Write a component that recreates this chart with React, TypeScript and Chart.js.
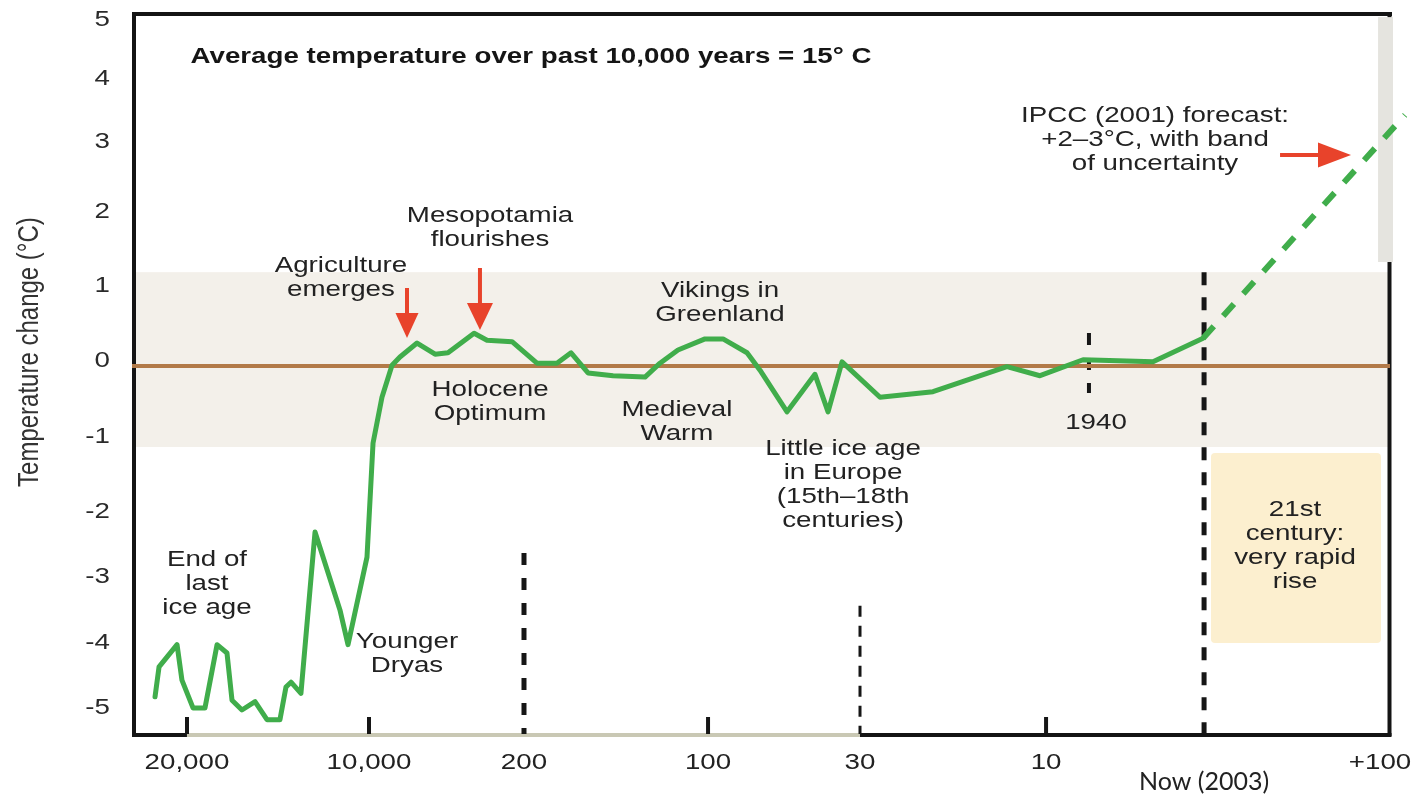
import { useEffect, useRef } from 'react';
import { Chart, registerables } from 'chart.js';

Chart.register(...registerables);

// ---------- data ----------
// x is a position along the (non-uniform) time axis, 0..100 across the plot
const xTickPositions = [4.37, 18.84, 31.16, 45.79, 57.87, 72.66, 85.22, 99.21];
const xTickLabels: (string | string[])[] = ['20,000', '10,000', '200', '100', '30', '10', ['', 'Now (2003)'], '+100'];

const yTickPositions = [4.98, 4.13, 3.22, 2.22, 1.15, 0.07, -1.02, -2.1, -3.04, -3.99, -4.92];
const yTickLabels = ['5', '4', '3', '2', '1', '0', '-1', '-2', '-3', '-4', '-5'];

const timeline = [
  1.83, 2.15, 3.58, 3.97, 4.85, 5.8, 6.76, 7.55, 7.95, 8.74, 9.78, 10.73, 11.76, 12.24, 12.64, 13.43,
  14.55, 16.53, 17.17, 18.68, 19.16, 19.87, 20.67, 21.3, 22.66, 24.09, 25.12, 27.19, 28.22, 30.21,
  32.19, 33.78, 34.9, 36.25, 38.24, 40.78, 41.97, 43.4, 45.55, 46.98, 48.89, 49.92, 52.07, 54.29,
  55.33, 56.44, 59.46, 63.67, 69.55, 72.18, 75.6, 81.16, 85.14,
];
const temperature = [
  -4.76, -4.33, -4.01, -4.52, -4.92, -4.92, -4.01, -4.13, -4.81, -4.95, -4.83, -5.09, -5.09, -4.62,
  -4.55, -4.71, -2.39, -3.51, -4.01, -2.75, -1.11, -0.45, 0.01, 0.13, 0.33, 0.17, 0.19, 0.47, 0.37,
  0.35, 0.04, 0.04, 0.19, -0.1, -0.14, -0.16, 0.04, 0.23, 0.39, 0.39, 0.19, -0.06, -0.66, -0.12,
  -0.66, 0.06, -0.45, -0.37, -0.01, -0.14, 0.09, 0.06, 0.4,
];
const forecastX = [85.14, 101.19];
const forecastY = [0.4, 3.61];
const baselineX = [0, 100];
const baselineY = [0, 0];

// ---------- decorations (in axis units) ----------
const band = { top: 1.35, bottom: -1.165 };
const uncertainty = { x1: 99.05, x2: 100.24, top: 5.02, bottom: 1.496 };
const centuryBox = { x1: 85.77, x2: 99.28, top: -1.252, bottom: -3.986 };
const guides = [
  { x: 31.16, from: -2.69, width: 5, dash: [12, 13] },
  { x: 57.87, from: -3.45, width: 3, dash: [11, 9] },
  { x: 85.22, from: 1.35, width: 5, dash: [13, 12] },
];
const marker1940 = { x: 76.07, from: 0.475, to: -0.388 };
const shortTickIdx = [0, 1, 3, 5];

type Note = { x: number; y: number; lines: string[]; bold?: boolean };
const notes: Note[] = [
  { x: 31.72, y: 4.446, lines: ['Average temperature over past 10,000 years = 15° C'], bold: true },
  { x: 81.32, y: 3.597, lines: ['IPCC (2001) forecast:', '+2–3°C, with band', 'of uncertainty'] },
  { x: 28.46, y: 2.158, lines: ['Mesopotamia', 'flourishes'] },
  { x: 16.61, y: 1.439, lines: ['Agriculture', 'emerges'] },
  { x: 28.46, y: -0.345, lines: ['Holocene', 'Optimum'] },
  { x: 46.74, y: 1.079, lines: ['Vikings in', 'Greenland'] },
  { x: 43.32, y: -0.633, lines: ['Medieval', 'Warm'] },
  { x: 56.52, y: -1.194, lines: ['Little ice age', 'in Europe', '(15th–18th', 'centuries)'] },
  { x: 76.63, y: -0.82, lines: ['1940'] },
  { x: 5.96, y: -2.791, lines: ['End of', 'last', 'ice age'] },
  { x: 21.86, y: -3.971, lines: ['Younger', 'Dryas'] },
  { x: 92.45, y: -2.072, lines: ['21st', 'century:', 'very rapid', 'rise'] },
];
const arrows = [
  { x1: 21.86, y1: 1.122, x2: 21.86, y2: 0.403, len: 25, w: 23 },
  { x1: 27.66, y1: 1.41, x2: 27.66, y2: 0.518, len: 27, w: 26 },
  { x1: 91.26, y1: 3.036, x2: 96.9, y2: 3.036, len: 33, w: 25 },
];

const SX = 1.26; // horizontal stretch of the original artwork's lettering
const FONT = '"Liberation Sans", Arial, Helvetica, sans-serif';
const GREEN = '#40ad4b';
const RED = '#e8432b';

const protoFill = CanvasRenderingContext2D.prototype.fillText;

const decor = {
  id: 'decor',
  beforeDraw(chart: any) {
    const ctx = chart.ctx;
    ctx.fillText = function (t: string, x: number, y: number, mw?: number) {
      if (/Lato/.test(this.font)) {
        return mw === undefined ? protoFill.call(this, t, x, y) : protoFill.call(this, t, x, y, mw);
      }
      this.save();
      this.translate(x, y);
      this.scale(SX, 1);
      if (mw === undefined) protoFill.call(this, t, 0, 0);
      else protoFill.call(this, t, 0, 0, mw / SX);
      this.restore();
    };
  },
  afterDraw(chart: any) {
    delete chart.ctx.fillText;
  },
  beforeDatasetsDraw(chart: any) {
    const { ctx, chartArea: a } = chart;
    const xs = chart.scales.x;
    const ys = chart.scales.y;
    const px = (v: number) => xs.getPixelForValue(v);
    const py = (v: number) => ys.getPixelForValue(v);
    const line = (x1: number, y1: number, x2: number, y2: number) => {
      ctx.beginPath();
      ctx.moveTo(x1, y1);
      ctx.lineTo(x2, y2);
      ctx.stroke();
    };
    ctx.save();
    // beige band of natural variability
    ctx.fillStyle = '#f3f0ea';
    ctx.fillRect(a.left, py(band.top), a.right - a.left, py(band.bottom) - py(band.top));
    // 21st century box
    ctx.fillStyle = '#fcefcf';
    ctx.beginPath();
    ctx.roundRect(px(centuryBox.x1), py(centuryBox.top), px(centuryBox.x2) - px(centuryBox.x1), py(centuryBox.bottom) - py(centuryBox.top), 4);
    ctx.fill();
    // frame
    ctx.strokeStyle = '#141414';
    ctx.lineWidth = 4;
    ctx.lineCap = 'butt';
    line(a.left + 2, a.top, a.left + 2, a.bottom);
    line(a.left, a.top + 1, a.right + 2, a.top + 1);
    line(a.right - 0.5, a.top, a.right - 0.5, a.bottom);
    const by = a.bottom - 1;
    const g0 = px(xTickPositions[0]);
    const g1 = px(xTickPositions[4]);
    line(a.left, by, g0, by);
    line(g1, by, a.right + 1.5, by);
    ctx.strokeStyle = '#c9c8b4';
    line(g0, by, g1, by);
    // uncertainty band
    ctx.fillStyle = '#e5e4df';
    ctx.fillRect(px(uncertainty.x1), py(uncertainty.top), px(uncertainty.x2) - px(uncertainty.x1), py(uncertainty.bottom) - py(uncertainty.top));
    // dashed guides
    ctx.strokeStyle = '#161616';
    for (const g of guides) {
      ctx.lineWidth = g.width;
      ctx.setLineDash(g.dash);
      line(px(g.x), py(g.from), px(g.x), a.bottom - 2);
    }
    ctx.lineWidth = 4;
    ctx.setLineDash([12, 13]);
    line(px(marker1940.x), py(marker1940.from), px(marker1940.x), py(marker1940.to));
    ctx.setLineDash([]);
    // short ticks
    for (const i of shortTickIdx) {
      const x = px(xTickPositions[i]);
      line(x, a.bottom - 19, x, a.bottom - 2);
    }
    ctx.restore();
  },
  afterDatasetsDraw(chart: any) {
    const { ctx } = chart;
    const xs = chart.scales.x;
    const ys = chart.scales.y;
    const px = (v: number) => xs.getPixelForValue(v);
    const py = (v: number) => ys.getPixelForValue(v);
    ctx.save();
    // arrows
    ctx.fillStyle = RED;
    ctx.strokeStyle = RED;
    ctx.lineWidth = 4;
    for (const ar of arrows) {
      const x1 = px(ar.x1), y1 = py(ar.y1), x2 = px(ar.x2), y2 = py(ar.y2);
      const d = Math.hypot(x2 - x1, y2 - y1);
      const ux = (x2 - x1) / d, uy = (y2 - y1) / d;
      const bx = x2 - ux * ar.len, by = y2 - uy * ar.len;
      ctx.beginPath();
      ctx.moveTo(x1, y1);
      ctx.lineTo(bx + ux, by + uy);
      ctx.stroke();
      ctx.beginPath();
      ctx.moveTo(x2, y2);
      ctx.lineTo(bx - uy * ar.w / 2, by + ux * ar.w / 2);
      ctx.lineTo(bx + uy * ar.w / 2, by - ux * ar.w / 2);
      ctx.closePath();
      ctx.fill();
    }
    // notes
    ctx.textAlign = 'center';
    ctx.textBaseline = 'middle';
    for (const n of notes) {
      ctx.font = `${n.bold ? 'bold ' : ''}22px ${FONT}`;
      ctx.fillStyle = n.bold ? '#151515' : '#222222';
      n.lines.forEach((t, i) => ctx.fillText(t, px(n.x), py(n.y) + i * 24));
    }
    // y-axis title (glyphs stretched horizontally on screen)
    ctx.save();
    ctx.font = `24px ${FONT}`;
    ctx.fillStyle = '#333333';
    ctx.translate(30, py(0.2));
    ctx.scale(SX, 1);
    ctx.rotate(-Math.PI / 2);
    protoFill.call(ctx, 'Temperature change (°C)', 0, 0);
    ctx.restore();
    ctx.restore();
  },
};

export default function App() {
  const ref = useRef<HTMLCanvasElement>(null);
  useEffect(() => {
    if (!ref.current) return;
    const chart = new Chart(ref.current, {
      type: 'line',
      data: {
        datasets: [
          {
            data: timeline.map((t, i) => ({ x: t, y: temperature[i] })),
            borderColor: GREEN,
            borderWidth: 5,
            pointRadius: 0,
            tension: 0,
            borderJoinStyle: 'round',
            borderCapStyle: 'round',
          },
          {
            data: forecastX.map((t, i) => ({ x: t, y: forecastY[i] })),
            borderColor: GREEN,
            borderWidth: 6,
            borderDash: [16, 14],
            pointRadius: 0,
            clip: false as any,
          },
          {
            data: baselineX.map((t, i) => ({ x: t, y: baselineY[i] })),
            borderColor: '#b27a48',
            borderWidth: 4,
            pointRadius: 0,
          },
        ],
      },
      options: {
        animation: false,
        responsive: false,
        events: [],
        layout: { padding: { top: 13, right: 27, left: 0, bottom: 0 } },
        plugins: { legend: { display: false }, tooltip: { enabled: false } },
        scales: {
          x: {
            type: 'linear',
            min: 0,
            max: 100,
            grid: { display: false, drawTicks: false },
            border: { display: false },
            afterFit: (s: any) => {
              s.height = 59;
              s.paddingLeft = 0;
              s.paddingRight = 0;
            },
            afterBuildTicks: (s: any) => { s.ticks = xTickPositions.map((v) => ({ value: v })); },
            ticks: {
              autoSkip: false,
              maxRotation: 0,
              padding: 14,
              color: '#222222',
              font: (c: any) => (c.index === 6
                ? { family: 'Lato', size: 25, lineHeight: 0.85 }
                : { family: FONT, size: 22 }),
              callback: (_v: any, i: number) => xTickLabels[i],
            },
          },
          y: {
            type: 'linear',
            min: -5.324,
            max: 5.079,
            grid: { display: false, drawTicks: false },
            border: { display: false },
            afterFit: (s: any) => {
              s.width = 132;
              s.paddingTop = 0;
              s.paddingBottom = 0;
            },
            afterBuildTicks: (s: any) => { s.ticks = yTickPositions.map((v) => ({ value: v })); },
            ticks: {
              autoSkip: false,
              padding: 22,
              color: '#2a2a2a',
              font: { family: FONT, size: 22 },
              callback: (_v: any, i: number) => yTickLabels[i],
            },
          },
        },
      },
      plugins: [decor],
    } as any);
    return () => chart.destroy();
  }, []);
  return (
    <div style={{ position: 'absolute', left: 0, top: 0, width: 1417, height: 795, background: '#fff' }}>
      <canvas ref={ref} width={1417} height={795} style={{ display: 'block' }} />
    </div>
  );
}
